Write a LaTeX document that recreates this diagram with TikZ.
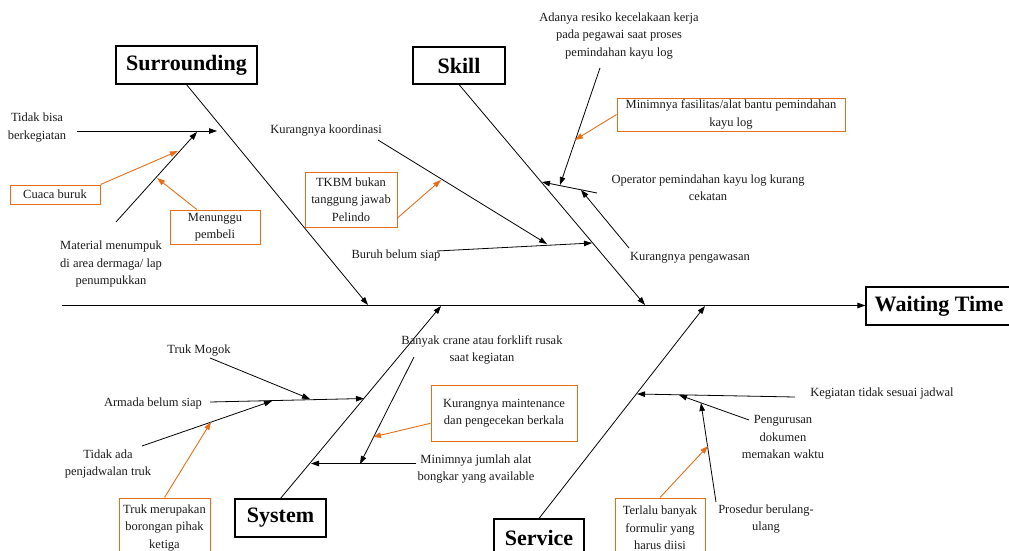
\documentclass[tikz,border=0pt]{standalone}
\usepackage{fontspec}
\setmainfont{Liberation Serif}
\usetikzlibrary{arrows.meta,calc}
\definecolor{org}{RGB}{230,110,25}
\definecolor{ink}{RGB}{25,25,25}
\begin{document}
\begin{tikzpicture}[x=1pt,y=-1pt,
  lbl/.style={font=\fontsize{12.5}{17.5}\selectfont, text=ink, align=center, inner sep=0pt},
  obox/.style={lbl, draw=org, line width=1pt, minimum width=#1},
  title/.style={draw=black, line width=1.1pt, font=\fontsize{22}{26}\selectfont\bfseries, inner sep=0pt, minimum height=38pt},
  arr/.style={-{Triangle[length=8pt,width=5.5pt]}, line width=0.8pt, draw=black},
  oarr/.style={-{Triangle[length=8pt,width=5.5pt]}, line width=0.9pt, draw=org},
  bone/.style={line width=0.8pt, draw=black}]
\useasboundingbox (0,0) rectangle (1009,551);

% title boxes
\node[title, minimum width=141pt] (sur) at (186.5,65) {Surrounding};
\node[title, minimum width=92pt, minimum height=37pt] (skill) at (459,65.5) {Skill};
\node[title, minimum width=146pt] (wt) at (939,306) {Waiting Time};
\node[title, minimum width=91pt] (sys) at (280.5,518) {System};
\node[title, minimum width=90pt] (svc) at (539,538) {Service};

% spine
\coordinate (sp0) at (62,305.5);
\draw[arr, line width=0.9pt] (sp0) -- (sp0 -| wt.west);

% main bones
\coordinate (b1) at (368,305);
\coordinate (b2) at (645,305);
\coordinate (b3) at (441,306);
\coordinate (b4) at (705,306);
\draw[arr] (sur.south) -- (b1);
\draw[arr] (skill.south) -- (b2);
\draw[arr] (sys.north) -- (b3);
\draw[arr] (svc.north) -- (b4);

% ---------- Surrounding ----------
\node[lbl] (tb) at (37,127.5) {Tidak bisa\\berkegiatan};
\node[lbl] (mat) at (111,264) {Material menumpuk\\di area dermaga/ lap\\penumpukkan};
\coordinate (tb0) at (77,131);
\coordinate (tb1) at (217,131);
\coordinate (mt0) at (116,222);
\coordinate (mt1) at (197,132);
\draw[arr] (tb0) -- (tb1);
\draw[arr] (mt0) -- (mt1);
\node[obox=90pt, minimum height=19pt] (cb) at (55,194.5) {Cuaca buruk};
\node[obox=90pt, minimum height=34pt] (mp) at (215,227) {Menunggu\\pembeli};
\coordinate (cbt) at (178,151);
\coordinate (mpt) at (157,178);
\draw[oarr] (cb.north east) -- (cbt);
\draw[oarr] ($(mp.north west)!0.3!(mp.north east)$) -- (mpt);

% ---------- Skill ----------
\node[lbl] (kk) at (326,131) {Kurangnya koordinasi};
\node[lbl] (bbs) at (396,255) {Buruh belum siap};
\coordinate (kk0) at (378,140);
\coordinate (kk1) at (547,244);
\coordinate (bb0) at (437,251);
\coordinate (bb1) at (592,243);
\draw[arr] (bb0) -- (bb1);
\draw[arr] (kk0) -- (kk1);
\node[obox=92pt, minimum height=55pt] (tkbm) at (351,199.5) {TKBM bukan\\tanggung jawab\\Pelindo};
\coordinate (tkt) at (441,180);
\draw[oarr] ($(tkbm.south east)!0.17!(tkbm.north east)$) -- (tkt);

\node[lbl] (adr) at (619,36) {Adanya resiko kecelakaan kerja\\pada pegawai saat proses\\pemindahan kayu log};
\node[lbl] (opr) at (708,187.5) {Operator pemindahan kayu log kurang\\cekatan};
\node[lbl] (kpw) at (690,258) {Kurangnya pengawasan};
\coordinate (op0) at (597,193);
\coordinate (op1) at (542,182);
\coordinate (ad0) at (600,68);
\coordinate (ad1) at (560,185);
\coordinate (kp0) at (629,248);
\coordinate (kp1) at (581,190);
\draw[arr] (op0) -- (op1);
\draw[arr] (ad0) -- (ad1);
\draw[arr] (kp0) -- (kp1);
\node[obox=228pt, minimum height=33pt] (mf) at (731,114.5) {Minimnya fasilitas/alat bantu pemindahan\\kayu log};
\coordinate (mft) at (575,140);
\draw[oarr] (mf.west) -- (mft);

% ---------- System ----------
\node[lbl] (tm) at (199,351) {Truk Mogok};
\node[lbl] (abs) at (153,403) {Armada belum siap};
\node[lbl] (tap) at (108,464) {Tidak ada\\penjadwalan truk};
\coordinate (ab0) at (210,402);
\coordinate (ab1) at (364,398.5);
\coordinate (tm0) at (210,358);
\coordinate (tm1) at (310,399);
\coordinate (ta0) at (142,446);
\coordinate (ta1) at (272,401);
\draw[arr] (ab0) -- (ab1);
\draw[arr] (tm0) -- (tm1);
\draw[arr] (ta0) -- (ta1);
\node[obox=91pt, minimum height=60pt] (tmp) at (164.5,528) {Truk merupakan\\borongan pihak\\ketiga};
\coordinate (tmpt) at (211,422);
\draw[oarr] ($(tmp.north west)!0.5!(tmp.north east)$) -- (tmpt);

\node[lbl] (bcr) at (482,350) {Banyak crane atau forklift rusak\\saat kegiatan};
\node[lbl] (mja) at (476,469) {Minimnya jumlah alat\\bongkar yang available};
\coordinate (bc0) at (414,357);
\coordinate (bc1) at (360,464);
\coordinate (mj0) at (416,463.5);
\coordinate (mj1) at (311,463.5);
\draw[arr] (bc0) -- (bc1);
\draw[arr] (mj0) -- (mj1);
\node[obox=146pt, minimum height=56pt] (kmt) at (504,413) {Kurangnya maintenance\\dan pengecekan berkala};
\coordinate (kmtt) at (373,437);
\draw[oarr] ($(kmt.south west)!0.32!(kmt.north west)$) -- (kmtt);

% ---------- Service ----------
\node[lbl] (kts) at (882,394) {Kegiatan tidak sesuai jadwal};
\node[lbl] (pgd) at (783,437) {Pengurusan\\dokumen\\memakan waktu};
\node[lbl] (pbu) at (766,519) {Prosedur berulang-\\ulang};
\coordinate (kt0) at (795,397);
\coordinate (kt1) at (637,394);
\coordinate (pg0) at (749,420);
\coordinate (pg1) at (679,395);
\coordinate (pb0) at (716,502);
\coordinate (pb1) at (701,403);
\draw[arr] (kt0) -- (kt1);
\draw[arr] (pg0) -- (pg1);
\draw[arr] (pb0) -- (pb1);
\node[obox=90pt, minimum height=60pt] (tbf) at (660,528) {Terlalu banyak\\formulir yang\\harus diisi};
\coordinate (tbft) at (708,446);
\draw[oarr] (tbf.north) -- (tbft);
\end{tikzpicture}
\end{document}
